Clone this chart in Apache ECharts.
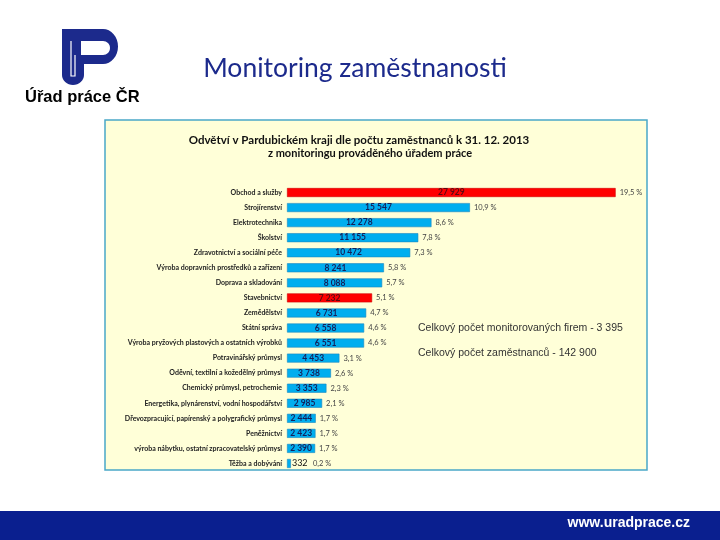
<!DOCTYPE html>
<html>
<head>
<meta charset="utf-8">
<script src="https://cdn.jsdelivr.net/npm/echarts@6/dist/echarts.min.js"></script>
<style>
  html, body { margin: 0; padding: 0; background: #fff; }
  #main { width: 720px; height: 540px; }
</style>
</head>
<body>
<div id="main"></div>
<script>
// odvětví, seřazeno podle počtu zaměstnanců
var branches = ['Obchod a služby', 'Strojírenství', 'Elektrotechnika', 'Školství',
  'Zdravotnictví a sociální péče', 'Výroba dopravních prostředků a zařízení',
  'Doprava a skladování', 'Stavebnictví', 'Zemědělství', 'Státní správa',
  'Výroba pryžových plastových a ostatních výrobků', 'Potravinářský průmysl',
  'Oděvní, textilní a kožedělný průmysl', 'Chemický průmysl, petrochemie',
  'Energetika, plynárenství, vodní hospodářství',
  'Dřevozpracující, papírenský a polygrafický průmysl', 'Peněžnictví',
  'výroba nábytku, ostatní zpracovatelský průmysl', 'Těžba a dobývání'];
var employees = [27929, 15547, 12278, 11155, 10472, 8241, 8088, 7232, 6731, 6558,
  6551, 4453, 3738, 3353, 2985, 2444, 2423, 2390, 332];
var shares = ['19,5', '10,9', '8,6', '7,8', '7,3', '5,8', '5,7', '5,1', '4,7', '4,6',
  '4,6', '3,1', '2,6', '2,3', '2,1', '1,7', '1,7', '1,7', '0,2'];
var highlighted = ['Obchod a služby', 'Stavebnictví'];

function fmt(n) {
  return String(n).replace(/\B(?=(\d{3})+(?!\d))/g, ' ');
}

// body oblouku pro logo
function arc(cx, cy, rx, ry, a0, a1) {
  var pts = [];
  for (var k = 0; k <= 16; k++) {
    var a = (a0 + (a1 - a0) * k / 16) * Math.PI / 180;
    pts.push([cx + rx * Math.cos(a), cy + ry * Math.sin(a)]);
  }
  return pts;
}
var logoOuter = [[62, 29], [103, 29]]
  .concat(arc(103, 46.5, 15, 17.5, -90, 90))
  .concat([[84, 64], [84, 75]])
  .concat(arc(73, 75, 11, 10, 0, 180));
var logoHole = [[81, 41], [103, 41]]
  .concat(arc(103, 48, 7, 7, -90, 90))
  .concat([[81, 55]]);

var myChart = echarts.init(document.getElementById('main'));

var barData = employees.map(function (v, i) {
  var red = highlighted.indexOf(branches[i]) >= 0;
  var item = {
    value: v,
    itemStyle: {
      color: red ? '#ff0000' : '#00aeef',
      borderColor: red ? '#d00000' : '#1b86c0',
      borderWidth: 0.6
    }
  };
  if (red) item.label = { color: '#5a0a10' };
  if (v < 1000) {
    item.label = { position: 'right', distance: 1, fontSize: 9, fontWeight: 'normal', color: '#111' };
  }
  return item;
});
var shareData = employees.map(function (v) {
  var item = { value: v };
  if (v < 1000) item.label = { distance: 22 };
  return item;
});

myChart.setOption({
  backgroundColor: '#ffffff',
  animation: false,
  title: [
    {
      text: 'Monitoring zaměstnanosti',
      left: 355, top: 55, textAlign: 'center', padding: 0,
      textStyle: { fontFamily: 'Lato', fontSize: 26.5, fontWeight: 'normal', color: '#1c2a8c' }
    },
    {
      text: 'Odvětví v Pardubickém kraji dle počtu zaměstnanců k 31. 12. 2013',
      left: 359, top: 134, textAlign: 'center', padding: 0,
      textStyle: { fontFamily: 'Lato', fontSize: 11.5, fontWeight: 'bold', color: '#111' }
    },
    {
      text: 'z monitoringu prováděného úřadem práce',
      left: 370, top: 148, textAlign: 'center', padding: 0,
      textStyle: { fontFamily: 'Lato', fontSize: 11, fontWeight: 'bold', color: '#111' }
    }
  ],
  graphic: [
    {
      type: 'rect', z: -10,
      shape: { x: 105, y: 120, width: 542, height: 350 },
      style: { fill: '#ffffd8', stroke: '#4aa8c8', lineWidth: 1.5 }
    },
    {
      type: 'rect', z: -10,
      shape: { x: 0, y: 511, width: 720, height: 29 },
      style: { fill: '#0a1f8f' }
    },
    {
      type: 'text', right: 30, top: 516,
      style: { text: 'www.uradprace.cz', fill: '#ffffff', font: 'bold 14px "Liberation Sans", Arial' }
    },
    {
      type: 'polygon', z: 5,
      shape: { points: logoOuter },
      style: { fill: '#1c2a8c' }
    },
    {
      type: 'polygon', z: 6,
      shape: { points: logoHole },
      style: { fill: '#ffffff' }
    },
    {
      type: 'polyline', z: 6,
      shape: { points: [[71, 41], [71, 76], [75, 76], [75, 55]] },
      style: { fill: 'none', stroke: '#ffffff', lineWidth: 1.2 }
    },
    {
      type: 'text', left: 25, top: 89,
      style: { text: 'Úřad práce ČR', fill: '#000', font: 'bold 16.5px "Liberation Sans", Arial' }
    },
    {
      type: 'text', left: 418, top: 323,
      style: { text: 'Celkový počet monitorovaných firem - 3 395', fill: '#333', font: '10.5px "Liberation Sans", Arial' }
    },
    {
      type: 'text', left: 418, top: 348,
      style: { text: 'Celkový počet zaměstnanců - 142 900', fill: '#333', font: '10.5px "Liberation Sans", Arial' }
    }
  ],
  grid: { left: 287, right: 80, top: 185, bottom: 69 },
  xAxis: { type: 'value', min: 0, max: 30000, show: false },
  yAxis: {
    type: 'category',
    data: branches,
    inverse: true,
    axisLine: { show: false },
    axisTick: { show: false },
    axisLabel: { margin: 5, fontFamily: 'Lato', fontSize: 7, fontWeight: 'bold', color: '#222' }
  },
  series: [
    {
      type: 'bar',
      data: barData,
      barWidth: 9,
      label: {
        show: true, position: 'inside',
        fontFamily: 'Lato', fontSize: 8.5, fontWeight: 'bold', color: '#14205a',
        formatter: function (p) { return fmt(p.value); }
      }
    },
    {
      type: 'bar',
      data: shareData,
      barWidth: 9,
      barGap: '-100%',
      silent: true,
      itemStyle: { color: 'rgba(0,0,0,0)' },
      label: {
        show: true, position: 'right', distance: 4,
        fontFamily: 'Lato', fontSize: 7.5, color: '#444',
        formatter: function (p) { return shares[p.dataIndex] + ' %'; }
      }
    }
  ]
});
</script>
</body>
</html>
